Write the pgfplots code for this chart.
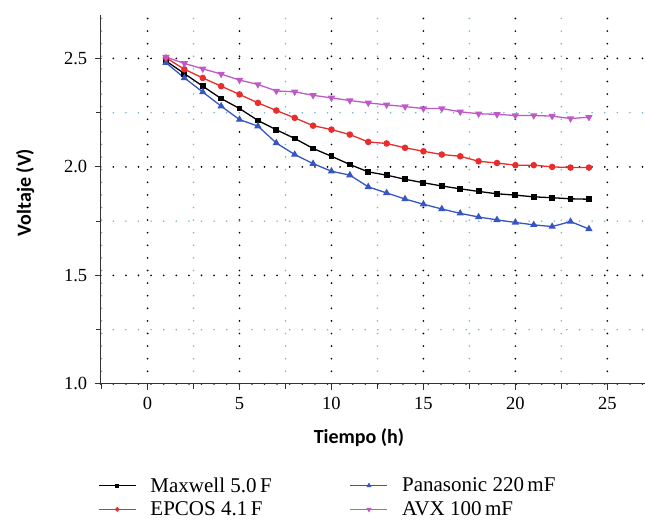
\documentclass[border=0pt]{standalone}
\usepackage{fontspec}
\setmainfont{Liberation Serif}
\newfontfamily\labfont{Carlito}
\usepackage{pgfplots}
\pgfplotsset{compat=1.18}
\definecolor{epred}{RGB}{232,45,45}
\definecolor{panblue}{RGB}{55,85,195}
\definecolor{avxmag}{RGB}{190,90,200}
\definecolor{minorgrid}{RGB}{120,185,210}
\begin{document}
\begin{tikzpicture}
\begin{axis}[
  scale only axis,
  width=544.3pt, height=368.9pt,
  xmin=-2.55, xmax=27.05, ymin=1.0, ymax=2.7,
  axis x line=bottom, axis y line=left,
  axis line style={-, line width=1pt, black!80},
  xtick={0,5,10,15,20,25},
  ytick={1.0,1.5,2.0,2.5},
  minor xtick={-2.5,2.5,7.5,12.5,17.5,22.5},
  minor ytick={1.25,1.75,2.25},
  tick align=outside,
  major tick length=6pt, minor tick length=5pt,
  tick style={line width=0.9pt, black!80},
  grid=both,
  major grid style={black, line width=1.9pt, line cap=round, dash pattern=on 0pt off 12.6pt},
  minor grid style={minorgrid, line width=1.8pt, line cap=round, dash pattern=on 0pt off 12.6pt},
  /pgf/number format/assume math mode=true,
  yticklabel style={/pgf/number format/fixed, /pgf/number format/fixed zerofill, /pgf/number format/precision=1, xshift=-4pt},
  ticklabel style={font=\fontsize{18.5}{20}\selectfont},
  xticklabel style={yshift=-4pt},
  xlabel={Tiempo (h)}, ylabel={Voltaje (V)},
  label style={font=\labfont\bfseries\fontsize{20}{22}\selectfont},
  xlabel style={at={(axis description cs:0.4745,-0.1456)}, anchor=center},
  ylabel style={at={(axis description cs:-0.139,0.519)}, anchor=center, rotate=0},
  legend columns=2,
  legend cell align=left,
  legend style={draw=none, fill=none, inner sep=0pt,
    at={(axis description cs:-0.005,-0.248)}, anchor=north west,
    font=\fontsize{21}{22}\selectfont,
    row sep=4pt,
    /tikz/every odd column/.append style={column sep=12pt},
    /tikz/every even column/.append style={column sep=76pt}},
  legend image code/.code={\draw[mark repeat=2,mark phase=2,#1, every mark/.append style={scale=0.6}] plot coordinates {(0pt,0pt)(18.5pt,0pt)(37pt,0pt)};},
  every axis plot/.append style={line width=1.3pt},
]
\addplot[black, mark=square*, mark size=2.3pt, mark options={solid}] coordinates {
(1,2.488)(2,2.43)(3,2.372)(4,2.315)(5,2.269)(6,2.214)(7,2.171)(8,2.131)(9,2.085)(10,2.049)(11,2.011)(12,1.977)(13,1.962)(14,1.943)(15,1.927)(16,1.912)(17,1.899)(18,1.887)(19,1.876)(20,1.870)(21,1.862)(22,1.858)(23,1.853)(24,1.851)};
\addlegendentry{Maxwell 5.0\,F}
\addplot[panblue, mark=triangle*, mark size=3pt, mark options={solid}] coordinates {
(1,2.48)(2,2.41)(3,2.345)(4,2.28)(5,2.218)(6,2.188)(7,2.11)(8,2.057)(9,2.015)(10,1.98)(11,1.962)(12,1.908)(13,1.88)(14,1.852)(15,1.828)(16,1.806)(17,1.786)(18,1.769)(19,1.756)(20,1.744)(21,1.733)(22,1.725)(23,1.748)(24,1.714)};
\addlegendentry{Panasonic 220\,mF}
\addplot[epred, mark=*, mark size=2.6pt, mark options={solid}] coordinates {
(1,2.503)(2,2.45)(3,2.41)(4,2.372)(5,2.334)(6,2.295)(7,2.26)(8,2.226)(9,2.19)(10,2.172)(11,2.149)(12,2.115)(13,2.108)(14,2.088)(15,2.072)(16,2.057)(17,2.049)(18,2.026)(19,2.018)(20,2.008)(21,2.008)(22,2.0)(23,1.997)(24,1.997)};
\addlegendentry{EPCOS 4.1\,F}
\addplot[avxmag, mark=triangle*, mark size=3pt, mark options={solid, rotate=180}] coordinates {
(1,2.506)(2,2.477)(3,2.452)(4,2.428)(5,2.40)(6,2.38)(7,2.35)(8,2.346)(9,2.33)(10,2.318)(11,2.306)(12,2.295)(13,2.286)(14,2.278)(15,2.269)(16,2.269)(17,2.254)(18,2.245)(19,2.242)(20,2.237)(21,2.237)(22,2.234)(23,2.223)(24,2.229)};
\addlegendentry{AVX 100\,mF}
\end{axis}
\pgfresetboundingbox
\path[use as bounding box] ([xshift=-100.7pt,yshift=-138.7pt]current axis.south west) rectangle ([yshift=15pt]current axis.north east);
\end{tikzpicture}
\end{document}
